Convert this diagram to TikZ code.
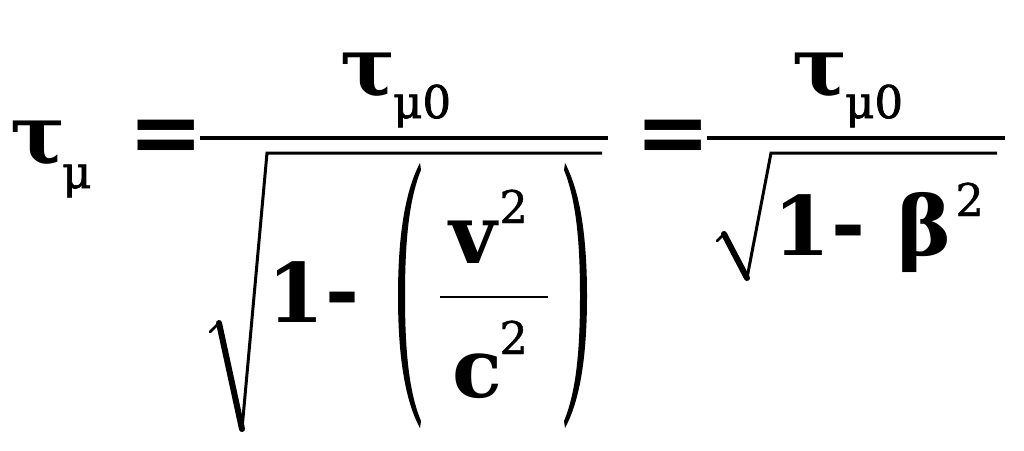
\documentclass[tikz,border=0pt]{standalone}
\usepackage{fontspec}
\setmainfont{DejaVu Serif}
\newfontfamily\eqfont{DejaVu Sans}
\newfontfamily\subfont{DejaVu Serif}[BoldFont={DejaVu Serif},BoldFeatures={FakeBold=1.6}]
\newfontfamily\supfont{DejaVu Serif}[BoldFont={DejaVu Serif},BoldFeatures={FakeBold=0.9}]
\tikzset{
  big/.style={font=\fontsize{82}{90}\selectfont\bfseries, inner sep=0pt, anchor=base west},
  subs/.style={font=\subfont\fontsize{45}{50}\selectfont\bfseries, inner sep=0pt, anchor=base west},
  supr/.style={font=\supfont\fontsize{45}{50}\selectfont\bfseries, inner sep=0pt, anchor=base west},
  eqsign/.style={font=\eqfont\fontsize{90}{96}\selectfont\bfseries, inner sep=0pt, anchor=base west},
  fracbar/.style={line width=3.5pt},
  smallbar/.style={line width=1.5pt},
  rootthin/.style={line width=3pt, line join=miter},
  rootthick/.style={line width=6pt, line cap=round},
  roottick/.style={line width=2.5pt, line cap=round},
  paren/.style={fill=black}
}
\begin{document}
\begin{tikzpicture}[x=1pt,y=-1pt]
\useasboundingbox[fill=white] (0,0) rectangle (1024,450);
% left side
\node[big] (tau) at (10,163) {τ};
\node[subs] (mu) at (62,188) {μ};
\node[eqsign] (eqa) at (128,163) {=};
% first fraction
\draw[fracbar] (200,138) coordinate (fa1) -- (608,138) coordinate (fa2);
\node[big] (taun1) at (340,95) {τ};
\node[subs] (mun1) at (393,118) {μ0};
% first root
\coordinate (ra0) at (210,332);
\coordinate (ra1) at (219,323);
\coordinate (ra2) at (242,429);
\coordinate (ra3) at (267,153);
\coordinate (ra4) at (602,153);
\draw[roottick] (ra0) -- (ra1);
\draw[rootthick] (ra1) -- (ra2);
\draw[rootthin] (ra2) -- (ra3) -- (ra4);
\node[big] (onea) at (267,322) {1};
\node[big] (minusa) at (325,319) {-};
% parentheses
\fill[paren] (420,163) .. controls (403,195) and (398,245) .. (398,296)
  .. controls (398,347) and (403,397) .. (420,428)
  -- (421,421) .. controls (408,390) and (405,345) .. (405,296)
  .. controls (405,247) and (408,202) .. (421,170) -- cycle;
\fill[paren] (565,163) .. controls (582,195) and (587,245) .. (587,296)
  .. controls (587,347) and (582,397) .. (565,428)
  -- (564,421) .. controls (577,390) and (580,345) .. (580,296)
  .. controls (580,247) and (577,202) .. (564,170) -- cycle;
\node[big] (v) at (449,263) {v};
\node[supr] (v2) at (499,223) {2};
\draw[smallbar] (440,297) coordinate (sb1) -- (548,297) coordinate (sb2);
\node[big] (c) at (452,397) {c};
\node[supr] (c2) at (499,354) {2};
% second equals
\node[eqsign] (eqb) at (635,163) {=};
% second fraction
\draw[fracbar] (707,138) coordinate (fb1) -- (1005,138) coordinate (fb2);
\node[big] (taun2) at (792,95) {τ};
\node[subs] (mun2) at (845,118) {μ0};
\coordinate (rb0) at (717,241);
\coordinate (rb1) at (724,234);
\coordinate (rb2) at (747,278);
\coordinate (rb3) at (771,153);
\coordinate (rb4) at (997,153);
\draw[roottick] (rb0) -- (rb1);
\draw[rootthick] (rb1) -- (rb2);
\draw[rootthin] (rb2) -- (rb3) -- (rb4);
\node[big] (oneb) at (773,255) {1};
\node[big] (minusb) at (831,252) {-};
\node[big] (beta) at (897,255) {β};
\node[supr] (b2) at (955,216) {2};
\end{tikzpicture}
\end{document}
